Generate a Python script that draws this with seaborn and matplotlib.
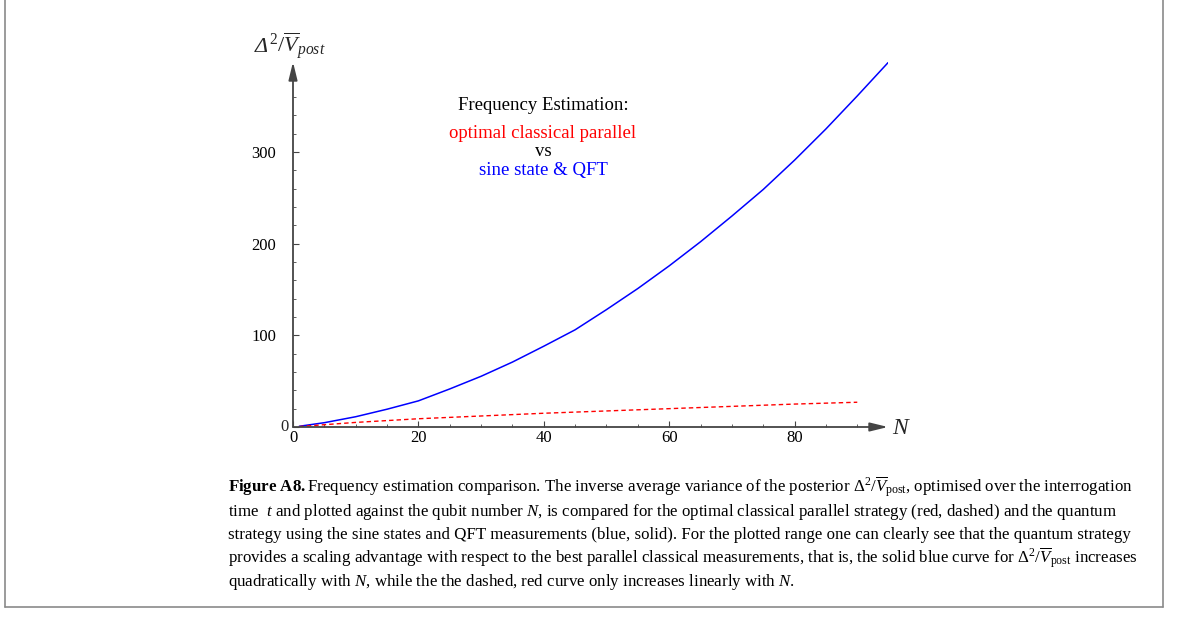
import numpy as np
import pandas as pd
import matplotlib
matplotlib.use("Agg")
import matplotlib.pyplot as plt
from matplotlib.lines import Line2D
from matplotlib.ticker import MultipleLocator, FixedFormatter
import seaborn as sns

# ---- data ----
N_quantum = [1, 5, 10, 15, 20, 25, 30, 35, 40, 45, 50, 55, 60, 65, 70, 75, 80, 85, 90, 95, 100]
V_quantum = [0.8, 4.7, 11.2, 19.4, 28.5, 41.5, 55.3, 70.8, 88.1, 106, 128, 151,
             175.7, 202, 230, 259, 291, 325, 361, 398, 437]
N_classical = [1, 10, 20, 30, 40, 50, 60, 70, 80, 90]
V_classical = [0.5, 5.0, 9.0, 12.0, 15.0, 17.5, 20.0, 22.5, 25.0, 27.0]
x_ticks = [0, 20, 40, 60, 80]
y_ticks = [0, 100, 200, 300]
y_tick_labels = ["", "100", "200", "300"]

sns.set_theme(style="white")
plt.rcParams["font.family"] = ["Liberation Serif", "DejaVu Serif"]
plt.rcParams["mathtext.fontset"] = "custom"
plt.rcParams["mathtext.rm"] = "Liberation Serif"
plt.rcParams["mathtext.it"] = "Liberation Serif:italic"
plt.rcParams["mathtext.bf"] = "Liberation Serif:bold"

W, H = 1179, 617
fig = plt.figure(figsize=(W / 100, H / 100), dpi=100)

def fx(px):
    return px / W

def fy(py):
    return 1 - py / H

x0, x1, y0, y1 = 293, 888, 427, 62
ax = fig.add_axes([fx(x0), fy(y0), fx(x1) - fx(x0), fy(y1) - fy(y0)])
ax.set_facecolor("none")

dq = pd.DataFrame({"N": N_quantum, "v": V_quantum})
dc = pd.DataFrame({"N": N_classical, "v": V_classical})
sns.lineplot(data=dq, x="N", y="v", ax=ax, color=(0, 0, 1), lw=1.1)
sns.lineplot(data=dc, x="N", y="v", ax=ax, color=(1, 0, 0), lw=1.0,
             linestyle=(0, (3.2, 2.2)))

ax.set_xlim(0, 94.9)
ax.set_ylim(0, 398)
ax.set_xlabel("")
ax.set_ylabel("")
for s in ax.spines.values():
    s.set_visible(False)

axcol = "#444444"
ax.annotate("", xy=(1.0, 0), xytext=(0, 0), xycoords="axes fraction",
            arrowprops=dict(arrowstyle="-|>,head_length=0.9,head_width=0.22",
                            color=axcol, lw=1.3, shrinkA=0, shrinkB=0))
ax.annotate("", xy=(0, 1.0), xytext=(0, 0), xycoords="axes fraction",
            arrowprops=dict(arrowstyle="-|>,head_length=0.9,head_width=0.22",
                            color=axcol, lw=1.3, shrinkA=0, shrinkB=0))

ax.set_xticks(x_ticks)
ax.set_yticks(y_ticks)
ax.set_yticklabels(y_tick_labels)
ax.xaxis.set_minor_locator(MultipleLocator(5))
ax.yaxis.set_minor_locator(MultipleLocator(20))
ax.tick_params(axis="both", which="major", direction="in", length=4, width=0.8,
               color=axcol, labelsize=12, labelcolor="black",
               bottom=True, left=True)
ax.tick_params(axis="x", which="major", pad=2)
ax.tick_params(axis="y", which="major", pad=12)
ax.tick_params(axis="both", which="minor", direction="in", length=2.5, width=0.6,
               color=axcol, bottom=True, left=True)
ax.grid(False)
# the y "0" label sits closer to the axis in the original
fig.text(fx(289), fy(427), "0", fontsize=12, ha="right", va="center")

# y-axis label: italic Delta followed by the rest
fig.canvas.draw()
r = fig.canvas.get_renderer()
t1 = fig.text(fx(255), fy(52), "Δ", fontsize=16, fontstyle="italic",
              ha="left", va="baseline")
bb = t1.get_window_extent(renderer=r)
fig.text(bb.x1 / W + 0.0005, fy(52), r"$^2/\overline{V}_{post}$", fontsize=16,
         ha="left", va="baseline")
fig.text(fx(902), fy(428), r"$N$", fontsize=17, ha="center", va="center")

# in-plot annotation
cx = 543
fs = 13.5
fig.text(fx(cx), fy(105), "Frequency Estimation:", fontsize=fs, ha="center", va="center", color="black")
fig.text(fx(cx), fy(133), "optimal classical parallel", fontsize=fs, ha="center", va="center", color=(1, 0, 0))
fig.text(fx(cx), fy(152), "vs", fontsize=fs, ha="center", va="center", color="black")
fig.text(fx(cx), fy(170), "sine state & QFT", fontsize=fs, ha="center", va="center", color=(0, 0, 1))

# caption
lines = [
    r"$\mathbf{Figure\ A8.}$Frequency estimation comparison. The inverse average variance of the posterior $\Delta^2/\overline{V}_{\mathrm{post}}$, optimised over the interrogation",
    r"time  $t$ and plotted against the qubit number $N$, is compared for the optimal classical parallel strategy (red, dashed) and the quantum",
    r"strategy using the sine states and QFT measurements (blue, solid). For the plotted range one can clearly see that the quantum strategy",
    r"provides a scaling advantage with respect to the best parallel classical measurements, that is, the solid blue curve for $\Delta^2/\overline{V}_{\mathrm{post}}$ increases",
    r"quadratically with $N$, while the the dashed, red curve only increases linearly with $N$.",
]
ys = [492, 515.5, 539, 562.5, 586]
for t, yy in zip(lines, ys):
    fig.text(fx(228), fy(yy), t, fontsize=12.2, ha="left", va="baseline", color="black")

# frame
bc = "#8a8a8a"
fig.add_artist(Line2D([fx(5), fx(5)], [fy(607), 1.01], color=bc, lw=1.2))
fig.add_artist(Line2D([fx(5), fx(1163)], [fy(607), fy(607)], color=bc, lw=1.2))
fig.add_artist(Line2D([fx(1163), fx(1163)], [fy(607), 1.01], color=bc, lw=1.2))

fig.savefig("out.png", dpi=100)
